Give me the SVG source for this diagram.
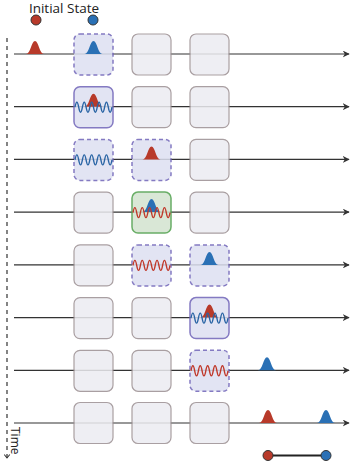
<svg xmlns="http://www.w3.org/2000/svg" xmlns:xlink="http://www.w3.org/1999/xlink" width="354" height="463" viewBox="0 0 354 463">
<style>
.gray{fill:#ececf1;stroke:#9b8f92;stroke-width:1.2}
.dash{fill:#dde0f1;stroke:#6f63b8;stroke-width:1.5;stroke-dasharray:4 3}
.solid{fill:#dde0f1;stroke:#6f63b8;stroke-width:1.5}
.green{fill:#d3e3cf;stroke:#4fa04c;stroke-width:1.5}
.line{stroke:#333;stroke-width:1.2;fill:none}
.red{fill:#b83a2a}
.blue{fill:#2a70b5}
.wr{fill:none;stroke:#c0392b;stroke-width:1.4}
.wb{fill:none;stroke:#2a65a5;stroke-width:1.4}
text{font-family:"Open Sans","Liberation Sans",sans-serif;fill:#222}
</style>
<defs>
<marker id="ah" viewBox="0 0 10 10" refX="9" refY="5" markerWidth="7" markerHeight="7" markerUnits="userSpaceOnUse" orient="auto">
<path d="M0,0 L10,5 L0,10 L3,5 Z" fill="#333"/>
</marker>
<marker id="ah2" viewBox="0 0 10 10" refX="5" refY="8" markerWidth="7" markerHeight="7" markerUnits="userSpaceOnUse" orient="0">
<path d="M1,3 L5,8 L9,3" fill="none" stroke="#333" stroke-width="1.5"/>
</marker>
<path id="g" d="M-9,0 C-4.5,0 -3.5,-13 0,-13 C3.5,-13 4.5,0 9,0 Z"/>
<path id="w" d="M0,0 Q1.85,-10 3.7,0 T7.4,0 T11.1,0 T14.8,0 T18.5,0 T22.2,0 T25.9,0 T29.6,0 T33.3,0 T37,0"/>
</defs>

<g id="labels">
<text x="64" y="13" font-size="13.5" text-anchor="middle">Initial State</text>
<circle cx="36" cy="20" r="5" class="red" stroke="#333" stroke-width="1"/>
<circle cx="93" cy="20" r="5" class="blue" stroke="#333" stroke-width="1"/>
<text transform="translate(10.5,427) rotate(90)" font-size="12">Time</text>
</g>

<g id="connectors">
<line x1="7" y1="38" x2="7" y2="458" stroke="#333" stroke-width="1.2" stroke-dasharray="4 4" marker-end="url(#ah2)"/>
<line class="line" x1="14" y1="54" x2="349" y2="54" marker-end="url(#ah)"/>
<line class="line" x1="14" y1="106.7" x2="349" y2="106.7" marker-end="url(#ah)"/>
<line class="line" x1="14" y1="159.4" x2="349" y2="159.4" marker-end="url(#ah)"/>
<line class="line" x1="14" y1="212.1" x2="349" y2="212.1" marker-end="url(#ah)"/>
<line class="line" x1="14" y1="264.9" x2="349" y2="264.9" marker-end="url(#ah)"/>
<line class="line" x1="14" y1="317.6" x2="349" y2="317.6" marker-end="url(#ah)"/>
<line class="line" x1="14" y1="370.3" x2="349" y2="370.3" marker-end="url(#ah)"/>
<line class="line" x1="14" y1="423" x2="349" y2="423" marker-end="url(#ah)"/>
</g>

<g id="row1">
<use href="#g" class="red" x="35" y="54"/>
<rect class="dash" x="74" y="34" width="39" height="41" rx="6" opacity="0.85"/>
<use href="#g" class="blue" x="93.5" y="54"/>
<rect class="gray" x="132" y="34" width="39" height="41" rx="6" opacity="0.85"/>
<rect class="gray" x="190" y="34" width="39" height="41" rx="6" opacity="0.85"/>
</g>

<g id="row2">
<rect class="solid" x="74" y="86.7" width="39" height="41" rx="6" opacity="0.85"/>
<use href="#g" class="red" x="93.5" y="106.7"/>
<use href="#w" class="wb" x="75" y="107.2"/>
<rect class="gray" x="132" y="86.7" width="39" height="41" rx="6" opacity="0.85"/>
<rect class="gray" x="190" y="86.7" width="39" height="41" rx="6" opacity="0.85"/>
</g>

<g id="row3">
<rect class="dash" x="74" y="139.4" width="39" height="41" rx="6" opacity="0.85"/>
<use href="#w" class="wb" x="75" y="159.9"/>
<rect class="dash" x="132" y="139.4" width="39" height="41" rx="6" opacity="0.85"/>
<use href="#g" class="red" x="151.5" y="159.4"/>
<rect class="gray" x="190" y="139.4" width="39" height="41" rx="6" opacity="0.85"/>
</g>

<g id="row4">
<rect class="gray" x="74" y="192.1" width="39" height="41" rx="6" opacity="0.85"/>
<rect class="green" x="132" y="192.1" width="39" height="41" rx="6" opacity="0.85"/>
<use href="#g" class="blue" x="151.5" y="212.1"/>
<use href="#w" class="wr" x="133" y="212.6"/>
<rect class="gray" x="190" y="192.1" width="39" height="41" rx="6" opacity="0.85"/>
</g>

<g id="row5">
<rect class="gray" x="74" y="244.9" width="39" height="41" rx="6" opacity="0.85"/>
<rect class="dash" x="132" y="244.9" width="39" height="41" rx="6" opacity="0.85"/>
<use href="#w" class="wr" x="133" y="265.4"/>
<rect class="dash" x="190" y="244.9" width="39" height="41" rx="6" opacity="0.85"/>
<use href="#g" class="blue" x="209.5" y="264.9"/>
</g>

<g id="row6">
<rect class="gray" x="74" y="297.6" width="39" height="41" rx="6" opacity="0.85"/>
<rect class="gray" x="132" y="297.6" width="39" height="41" rx="6" opacity="0.85"/>
<rect class="solid" x="190" y="297.6" width="39" height="41" rx="6" opacity="0.85"/>
<use href="#g" class="red" x="209.5" y="317.6"/>
<use href="#w" class="wb" x="191" y="318.1"/>
</g>

<g id="row7">
<rect class="gray" x="74" y="350.3" width="39" height="41" rx="6" opacity="0.85"/>
<rect class="gray" x="132" y="350.3" width="39" height="41" rx="6" opacity="0.85"/>
<rect class="dash" x="190" y="350.3" width="39" height="41" rx="6" opacity="0.85"/>
<use href="#w" class="wr" x="191" y="370.8"/>
<use href="#g" class="blue" x="267" y="370.3"/>
</g>

<g id="row8">
<rect class="gray" x="74" y="402.5" width="39" height="41" rx="6" opacity="0.85"/>
<rect class="gray" x="132" y="402.5" width="39" height="41" rx="6" opacity="0.85"/>
<rect class="gray" x="190" y="402.5" width="39" height="41" rx="6" opacity="0.85"/>
<use href="#g" class="red" x="268" y="423"/>
<use href="#g" class="blue" x="326" y="423"/>
</g>

<g id="final">
<line x1="268" y1="455.5" x2="326" y2="455.5" stroke="#222" stroke-width="2"/>
<circle cx="268" cy="455.5" r="5" class="red" stroke="#333" stroke-width="1"/>
<circle cx="326" cy="455.5" r="5" class="blue" stroke="#333" stroke-width="1"/>
</g>
</svg>
